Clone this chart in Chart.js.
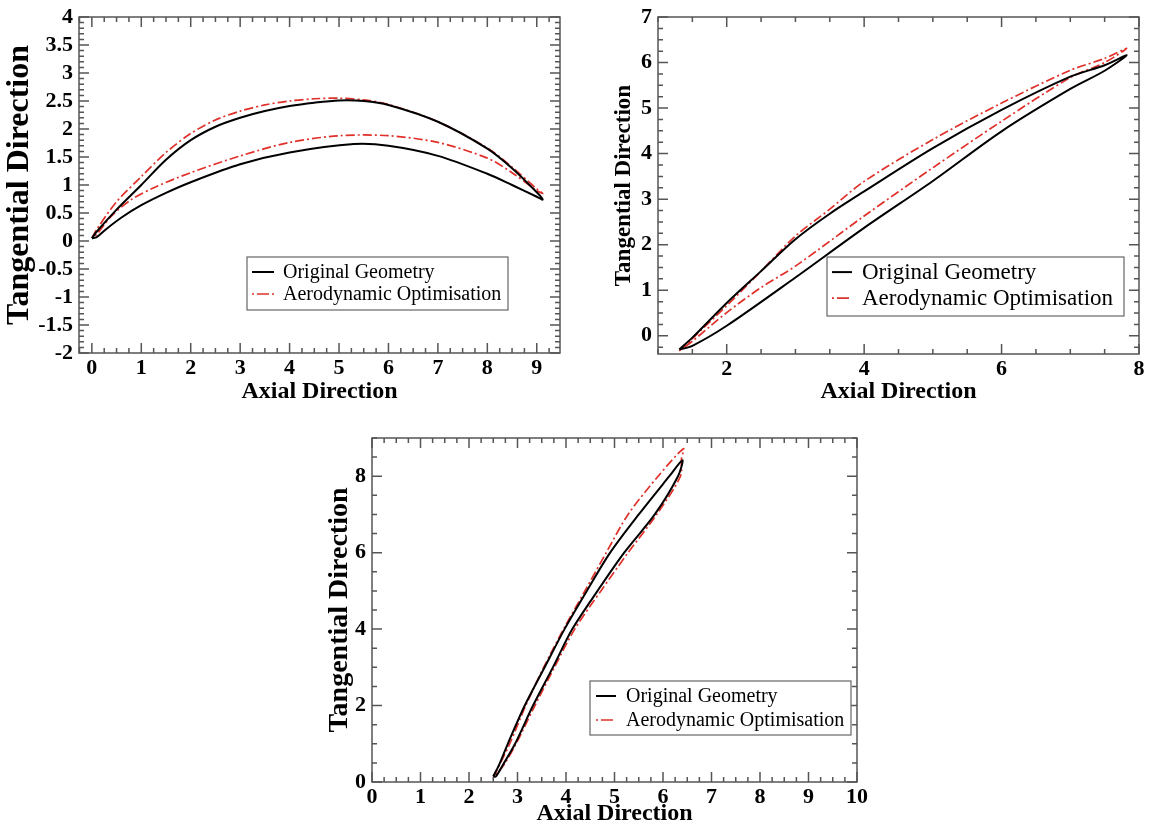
<!DOCTYPE html>
<html>
<head>
<meta charset="utf-8">
<title>Blade sections</title>
<script src="https://cdn.jsdelivr.net/npm/chart.js@4.4.1/dist/chart.umd.min.js"></script>
<style>
  html, body { margin: 0; padding: 0; background: #fff; }
  #wrap { position: relative; width: 1149px; height: 824px; overflow: hidden; }
  #wrap canvas { position: absolute; }
</style>
</head>
<body>
<div id="wrap">
  <canvas id="sec1" width="575" height="410" style="left:0;top:0"></canvas>
  <canvas id="sec2" width="574" height="410" style="left:575px;top:0"></canvas>
  <canvas id="sec3" width="560" height="406" style="left:320px;top:420px"></canvas>
</div>
<script>
// Section 1 profiles (closed loop: suction side LE -> TE, then pressure side TE -> LE)
const sec1OrigX = [0.0, 0.1, 0.5, 1.0, 1.5, 2.0, 2.5, 3.0, 3.5, 4.0, 4.5, 5.0, 5.5, 6.0, 7.0, 8.0, 8.5, 9.0, 9.12,
                   9.0, 8.5, 8.0, 7.0, 6.0, 5.3, 4.0, 3.0, 2.0, 1.5, 1.0, 0.6, 0.3, 0.1, 0.0];
const sec1OrigY = [0.05, 0.17, 0.56, 1.0, 1.45, 1.8, 2.04, 2.2, 2.32, 2.41, 2.47, 2.51, 2.5, 2.43, 2.13, 1.65, 1.3, 0.87, 0.74,
                   0.79, 1.0, 1.2, 1.52, 1.7, 1.73, 1.58, 1.37, 1.05, 0.86, 0.64, 0.42, 0.22, 0.07, 0.05];
const sec1OptX = [0.0, 0.1, 0.5, 1.0, 1.5, 2.0, 2.5, 3.0, 3.5, 4.0, 4.5, 5.0, 5.5, 6.0, 7.0, 8.0, 8.5, 9.0, 9.12,
                  9.0, 8.5, 8.0, 7.0, 6.0, 5.0, 4.0, 3.0, 2.0, 1.3, 0.8, 0.4, 0.1, 0.0];
const sec1OptY = [0.05, 0.21, 0.7, 1.15, 1.58, 1.92, 2.16, 2.32, 2.43, 2.5, 2.54, 2.55, 2.52, 2.44, 2.13, 1.66, 1.32, 0.93, 0.85,
                  0.9, 1.22, 1.48, 1.76, 1.88, 1.88, 1.76, 1.52, 1.22, 0.97, 0.74, 0.45, 0.12, 0.05];

// Section 2 profiles
const sec2OrigX = [1.31, 1.5, 2.0, 2.5, 3.0, 3.5, 4.0, 5.0, 6.0, 7.0, 7.5, 7.82,
                   7.5, 7.0, 6.0, 5.0, 4.0, 3.0, 2.0, 1.5, 1.31];
const sec2OrigY = [-0.3, -0.04, 0.72, 1.42, 2.12, 2.68, 3.17, 4.12, 4.96, 5.69, 5.94, 6.16,
                   5.82, 5.42, 4.49, 3.4, 2.37, 1.28, 0.22, -0.22, -0.3];
const sec2OptX = [1.31, 1.5, 2.0, 2.5, 3.0, 3.5, 4.0, 5.0, 6.0, 7.0, 7.5, 7.82,
                  7.5, 7.0, 6.0, 5.0, 4.0, 3.0, 2.5, 2.0, 1.5, 1.31];
const sec2OptY = [-0.33, -0.06, 0.66, 1.42, 2.19, 2.78, 3.39, 4.31, 5.11, 5.83, 6.09, 6.31,
                  6.0, 5.67, 4.71, 3.69, 2.63, 1.53, 1.06, 0.51, -0.12, -0.33];

// Section 3 profiles
const sec3OrigX = [2.5, 2.62, 2.8, 3.15, 3.56, 3.97, 4.43, 4.91, 5.5, 6.13, 6.4,
                   6.31, 5.83, 5.2, 4.65, 4.13, 3.73, 3.32, 2.95, 2.7, 2.55, 2.5];
const sec3OrigY = [0.15, 0.45, 1.0, 2.0, 3.0, 4.0, 5.0, 6.0, 7.0, 8.0, 8.42,
                   8.0, 7.0, 6.0, 5.0, 4.0, 3.0, 2.0, 1.0, 0.45, 0.14, 0.15];
const sec3OptX = [2.5, 2.63, 2.84, 3.17, 3.54, 3.95, 4.39, 4.83, 5.28, 5.9, 6.42,
                  6.38, 6.36, 5.87, 5.28, 4.72, 4.18, 3.76, 3.36, 2.97, 2.72, 2.5];
const sec3OptY = [0.12, 0.45, 1.0, 2.0, 3.0, 4.0, 5.0, 6.0, 7.0, 8.0, 8.72,
                  8.45, 8.0, 7.0, 6.0, 5.0, 4.0, 3.0, 2.0, 1.0, 0.45, 0.12];

const seriesNames = ['Original Geometry', 'Aerodynamic Optimisation'];

const toPoints = (xs, ys) => xs.map((x, i) => ({ x: x, y: ys[i] }));
const fmt = v => String(v);

Chart.defaults.font.family = '"Liberation Serif", "Times New Roman", serif';
Chart.defaults.color = '#000';

// inward tick marks on all four sides plus the frame
const frameTicks = {
  id: 'frameTicks',
  afterDatasetsDraw(chart, args, o) {
    const { ctx, chartArea: a, scales } = chart;
    ctx.save();
    ctx.strokeStyle = '#555';
    ctx.lineWidth = 1.5;
    ctx.strokeRect(a.left, a.top, a.right - a.left, a.bottom - a.top);
    const each = (scale, major, minor, draw) => {
      const i0 = Math.ceil(scale.min / minor - 1e-6);
      const i1 = Math.floor(scale.max / minor + 1e-6);
      for (let i = i0; i <= i1; i++) {
        const v = i * minor;
        const isMajor = Math.abs(v / major - Math.round(v / major)) < 1e-6;
        draw(scale.getPixelForValue(v), isMajor ? 10 : 5);
      }
    };
    ctx.beginPath();
    each(scales.x, o.xMajor, o.xMinor, (p, len) => {
      ctx.moveTo(p, a.bottom); ctx.lineTo(p, a.bottom - len);
      ctx.moveTo(p, a.top); ctx.lineTo(p, a.top + len);
    });
    each(scales.y, o.yMajor, o.yMinor, (p, len) => {
      ctx.moveTo(a.left, p); ctx.lineTo(a.left + len, p);
      ctx.moveTo(a.right, p); ctx.lineTo(a.right - len, p);
    });
    ctx.stroke();
    ctx.restore();
  }
};

// boxed legend inside the plot
const boxLegend = {
  id: 'boxLegend',
  afterDraw(chart, args, o) {
    const ctx = chart.ctx;
    ctx.save();
    ctx.fillStyle = '#fff';
    ctx.fillRect(o.x, o.y, o.w, o.h);
    ctx.strokeStyle = '#666';
    ctx.lineWidth = 1.2;
    ctx.strokeRect(o.x, o.y, o.w, o.h);
    ctx.font = o.size + 'px "Liberation Serif"';
    ctx.textBaseline = 'alphabetic';
    chart.data.datasets.forEach((ds, i) => {
      const base = o.rows[i];
      const ly = base - o.size * 0.3;
      ctx.strokeStyle = ds.borderColor;
      ctx.lineWidth = ds.borderWidth;
      ctx.setLineDash(i === 1 ? [2, 3, 12, 3] : []);
      ctx.beginPath();
      ctx.moveTo(o.lineX[0], ly);
      ctx.lineTo(o.lineX[1], ly);
      ctx.stroke();
      ctx.setLineDash([]);
      ctx.fillStyle = '#000';
      ctx.fillText(ds.label, o.textX, base);
    });
    ctx.restore();
  }
};

function drawSection(id, orig, opt, c) {
  const tickFont = { size: 22, weight: 'bold', lineHeight: 1 };
  new Chart(document.getElementById(id), {
    type: 'scatter',
    data: {
      datasets: [
        {
          label: seriesNames[0],
          data: orig,
          showLine: true,
          borderColor: '#000',
          borderWidth: 2,
          pointRadius: 0,
          tension: 0.3
        },
        {
          label: seriesNames[1],
          data: opt,
          showLine: true,
          borderColor: '#e0302a',
          borderWidth: 1.7,
          borderDash: [9, 3, 2, 3],
          pointRadius: 0,
          tension: 0.3
        }
      ]
    },
    options: {
      responsive: false,
      animation: false,
      layout: { padding: c.pad },
      plugins: {
        legend: { display: false },
        tooltip: { enabled: false },
        frameTicks: c.ticks,
        boxLegend: c.legend
      },
      scales: {
        x: {
          type: 'linear',
          min: c.x[0], max: c.x[1],
          grid: { display: false, drawTicks: false },
          border: { display: false },
          ticks: { stepSize: c.ticks.xMajor, includeBounds: false, autoSkip: false, maxRotation: 0,
                   padding: 4, font: tickFont, callback: fmt },
          title: { display: true, text: 'Axial Direction', padding: 0,
                   font: { size: 24, weight: 'bold', lineHeight: 1 } },
          afterFit: s => { s.height = c.xH; }
        },
        y: {
          type: 'linear',
          min: c.y[0], max: c.y[1],
          grid: { display: false, drawTicks: false },
          border: { display: false },
          ticks: { stepSize: c.ticks.yMajor, includeBounds: false, autoSkip: false,
                   padding: 6, font: tickFont, callback: fmt },
          title: { display: true, text: 'Tangential Direction', padding: 0,
                   font: { size: c.yTitle, weight: 'bold', lineHeight: 1 } },
          afterFit: s => { s.width = c.yW; }
        }
      }
    },
    plugins: [frameTicks, boxLegend]
  });
}

drawSection('sec1', toPoints(sec1OrigX, sec1OrigY), toPoints(sec1OptX, sec1OptY), {
  pad: { left: 4, top: 15, right: 15, bottom: 6 }, yW: 75, xH: 51, yTitle: 32,
  x: [-0.26, 9.47], y: [-2, 4],
  ticks: { xMajor: 1, xMinor: 0.25, yMajor: 0.5, yMinor: 0.1 },
  legend: { x: 247, y: 257, w: 261, h: 53, size: 20, rows: [278, 300], lineX: [252, 274], textX: 283 }
});

drawSection('sec2', toPoints(sec2OrigX, sec2OrigY), toPoints(sec2OptX, sec2OptY), {
  pad: { left: 38, top: 15, right: 10, bottom: 6 }, yW: 45, xH: 50, yTitle: 23,
  x: [1, 8], y: [-0.4, 7],
  ticks: { xMajor: 2, xMinor: 0.5, yMajor: 1, yMinor: 0.25 },
  legend: { x: 252, y: 257, w: 297, h: 59, size: 23, rows: [279, 305], lineX: [257, 277], textX: 287 }
});

drawSection('sec3', toPoints(sec3OrigX, sec3OrigY), toPoints(sec3OptX, sec3OptY), {
  pad: { left: 6, top: 18, right: 23, bottom: 0 }, yW: 46, xH: 44, yTitle: 28,
  x: [0, 10], y: [0, 9],
  ticks: { xMajor: 1, xMinor: 0.25, yMajor: 2, yMinor: 0.5 },
  legend: { x: 270, y: 261, w: 261, h: 54, size: 20, rows: [282, 306], lineX: [276, 296], textX: 306 }
});
</script>
</body>
</html>
